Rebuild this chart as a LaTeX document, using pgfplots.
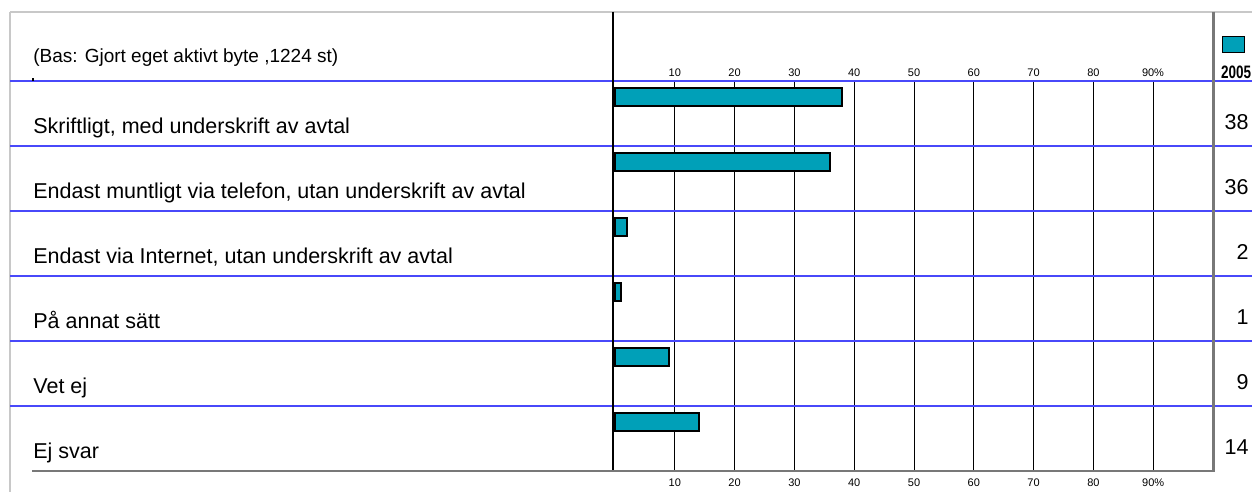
\documentclass[border=0pt]{standalone}
\usepackage{pgfplots}
\pgfplotsset{compat=1.18}
\usepackage{pgfplotstable}
\usepackage{fontspec}
\setmainfont{Liberation Sans}

\definecolor{barteal}{RGB}{0,160,184}
\definecolor{rowblue}{RGB}{72,72,250}
\definecolor{framegray}{RGB}{200,200,200}
\definecolor{boxgray}{RGB}{120,120,120}

% share of answers (%), one row per category, top to bottom
\pgfplotstableread{
pos share
0.25 38
1.25 36
2.25 2
3.25 1
4.25 9
5.25 14
}\sharetable

\begin{document}
\begin{tikzpicture}
\useasboundingbox (0,0) rectangle (626pt,246pt);

\begin{axis}[
  at={(307.5pt,10.5pt)}, anchor=south west,
  scale only axis, width=299pt, height=195pt,
  xmin=0, xmax=100, ymin=0, ymax=6, y dir=reverse,
  /pgf/number format/assume math mode=true,
  axis line style={draw=none},
  xtick={10,20,...,90},
  xticklabels={10,20,30,40,50,60,70,80,90\%},
  major tick length=0pt,
  xmajorgrids, grid style={black, line width=0.5pt},
  ytick=\empty,
  xticklabel style={font=\fontsize{5.5}{6}\selectfont, anchor=center, yshift=-6pt},
  clip=false,
]
\addplot[xbar, bar width=9pt, fill=barteal, draw=black, line width=1pt]
  table[x=share, y=pos] {\sharetable};
% value column at the right edge
\addplot[draw=none, mark=none, point meta=explicit,
  nodes near coords={\pgfmathprintnumber[fixed,precision=0,assume math mode=true]{\pgfplotspointmeta}},
  every node near coord/.append style={anchor=base east, inner sep=0pt,
    font=\fontsize{10.75}{12}\selectfont}]
  table[x expr=106.0, y expr=\thisrow{pos}+0.5, meta=share] {\sharetable};
\end{axis}

\begin{scope}[x=0.5pt, y=-0.5pt, yshift=246pt]
  % outer frame
  \draw[framegray, line width=1pt] (10,12) -- (1252,12);
  \draw[framegray, line width=1pt] (10,12) -- (10,492);
  % row separators
  \foreach \r in {81,146,211,276,341,406}
    \draw[rowblue, line width=0.6pt] (10,\r) -- (1252,\r);
  % plot frame
  \draw[black, line width=0.6pt] (613,12) -- (613,472);
  \draw[boxgray, line width=0.8pt] (32,471) -- (1213,471);
  \draw[boxgray, line width=1.5pt] (1213,12) -- (1213,472);
  \fill[black] (32,78) rectangle (34,81);
  % top scale
  \foreach \t in {10,20,...,80}
    \node[font=\fontsize{5.5}{6}\selectfont, inner sep=0pt] at ({615+5.98*\t},73) {\t};
  \node[font=\fontsize{5.5}{6}\selectfont, inner sep=0pt] at (1153,73) {90\%};
  % legend
  \draw[black, line width=0.5pt, fill=barteal] (1222,37) rectangle (1244,53);
  \node[font=\fontsize{9}{10}\selectfont\bfseries, inner sep=0pt, xscale=0.75] at (1236,72) {2005};
  % header and category labels
  \node[anchor=base west, inner sep=0pt, font=\fontsize{9.5}{11}\selectfont] at (33,63)
    {(Bas: Gjort eget aktivt byte ,1224 st)};
  \begin{scope}[every node/.style={anchor=base west, inner sep=0pt, font=\fontsize{10.75}{12}\selectfont}]
    \node at (33,134) {Skriftligt, med underskrift av avtal};
    \node at (33,199) {Endast muntligt via telefon, utan underskrift av avtal};
    \node at (33,264) {Endast via Internet, utan underskrift av avtal};
    \node at (33,329) {På annat sätt};
    \node at (33,394) {Vet ej};
    \node at (33,459) {Ej svar};
  \end{scope}
\end{scope}
\end{tikzpicture}
\end{document}
